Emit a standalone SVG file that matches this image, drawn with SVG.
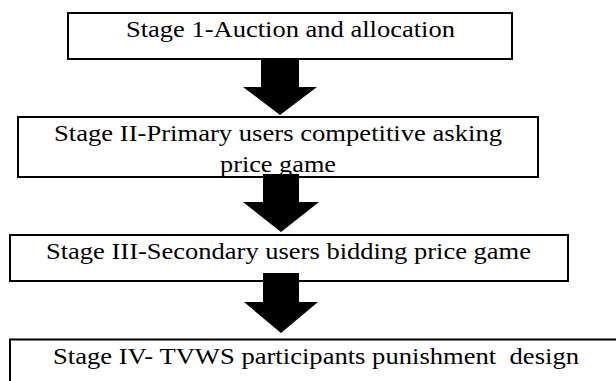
<svg xmlns="http://www.w3.org/2000/svg" width="616" height="381" viewBox="0 0 616 381">
<style>
.box{fill:#fff;stroke:#000;stroke-width:2}
.lbl{font-family:'Liberation Serif','Times New Roman',Times,serif;font-size:23.5px;fill:#000}
.arr{fill:#000;stroke:none}
</style>
<rect x="0" y="0" width="616" height="381" fill="#fff"/>
<g id="stage1">
<rect class="box" x="68" y="13" width="444" height="46"/>
<text class="lbl" x="126" y="37" textLength="329" lengthAdjust="spacingAndGlyphs">Stage 1-Auction and allocation</text>
</g>
<g id="stage2">
<rect class="box" x="18" y="117" width="520" height="60"/>
<text class="lbl" x="54" y="140.5" textLength="448" lengthAdjust="spacingAndGlyphs">Stage II-Primary users competitive asking</text>
<text class="lbl" x="220" y="172" textLength="116" lengthAdjust="spacingAndGlyphs">price game</text>
</g>
<g id="stage3">
<rect class="box" x="10" y="235" width="558" height="46"/>
<text class="lbl" x="46" y="258.5" textLength="485" lengthAdjust="spacingAndGlyphs">Stage III-Secondary users bidding price game</text>
</g>
<g id="stage4">
<rect class="box" x="10" y="339.5" width="620" height="60"/>
<text class="lbl" x="53" y="363.5" textLength="526" lengthAdjust="spacingAndGlyphs" xml:space="preserve">Stage IV- TVWS participants punishment  design</text>
</g>
<g id="connectors">
<path class="arr" d="M261,59 H299 V87 H317 L280,115 L243,87 H261 Z"/>
<path class="arr" d="M263,174 H299 V202 H319 L281,232 L243,202 H263 Z"/>
<path class="arr" d="M263,273 H299 V302 H318 L281,333 L244,302 H263 Z"/>
</g>
</svg>
